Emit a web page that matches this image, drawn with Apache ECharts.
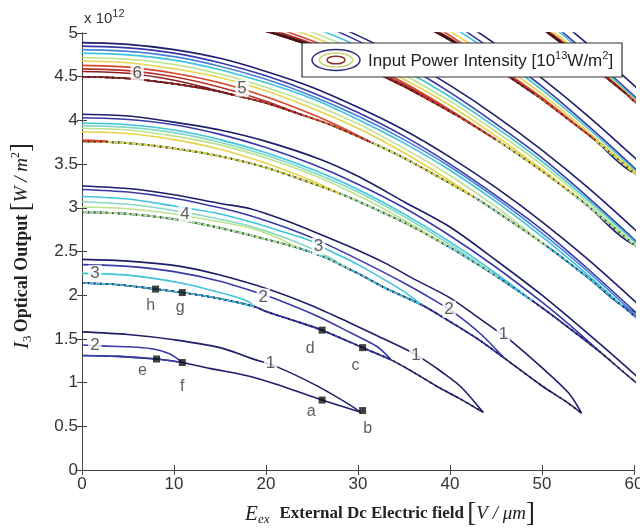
<!DOCTYPE html>
<html>
<head>
<meta charset="utf-8">
<script src="https://cdn.jsdelivr.net/npm/echarts@6/dist/echarts.min.js"></script>
<style>html,body{margin:0;padding:0;background:#fff}#chart{width:640px;height:529px}</style>
</head>
<body>
<div id="chart"></div>
<script>
// contour bands as [E, I3/1e12] points
var aBottom = [[0,1.31],[4,1.30],[8.1,1.27],[10.9,1.23],[14,1.16],[18.3,1.07],[22,0.95],[26.1,0.80],[30.3,0.66]];
var aLevel1 = [[0,1.58],[5,1.55],[10,1.49],[15,1.40],[18.3,1.28],[21.2,1.18],[25.6,0.96],[29.2,0.74],[30.3,0.66]];
var aLevel2 = [[0,1.43],[2.2,1.42],[5,1.41],[7.4,1.39],[9.5,1.33],[10.9,1.23]];

var bBottom = [[0,2.14],[4,2.12],[8,2.07],[10.9,2.03],[15,1.96],[18.7,1.87],[20.1,1.81],[23,1.71],[26.1,1.60],[30.5,1.40],[33.6,1.26],[36,1.12],[38.7,0.95],[41,0.82],[43.6,0.66]];
var bLevel1 = [[0,2.41],[5,2.39],[10.7,2.33],[15,2.23],[20.5,2.06],[25,1.88],[29.2,1.68],[33,1.49],[35.4,1.37],[37.2,1.26],[39,1.13],[41.2,0.95],[43.6,0.66]];
var bLevel2 = [[0,2.35],[5,2.33],[10,2.27],[15,2.16],[19,2.03],[21,1.96],[25.6,1.76],[29.2,1.57],[32.1,1.41],[33.6,1.26]];
var bLevel3 = [[0,2.25],[5,2.23],[10.7,2.14],[16.1,2.00],[18,1.93],[18.7,1.87]];

var cBottom = [[0,2.95],[5,2.93],[10,2.87],[15,2.77],[20,2.64],[23.5,2.54],[26.7,2.42],[29,2.30],[30,2.25],[33,2.08],[36.9,1.89],[39.8,1.71],[43,1.50],[45.9,1.28],[49.9,0.97],[52.5,0.79],[54.3,0.65]];
var cLevel1 = [[0,3.25],[5,3.22],[10,3.15],[15,3.05],[18.3,2.99],[22,2.86],[25.6,2.71],[29,2.56],[32.9,2.37],[36,2.19],[40,1.97],[43,1.75],[45,1.60],[46.5,1.49],[49.9,1.18],[52.9,0.88],[54.3,0.65]];
var cLevel2 = [[0,3.21],[5,3.18],[10,3.11],[15,3.00],[18.3,2.91],[22,2.78],[25.6,2.63],[30,2.41],[35,2.14],[38.5,1.93],[40.7,1.78],[43.4,1.55],[45.9,1.28]];
var cLevel3 = [[0,3.13],[5,3.10],[10,3.02],[15,2.93],[18.3,2.84],[22,2.72],[24.9,2.62],[26.7,2.52],[30,2.35],[33,2.17],[35,2.04],[36.9,1.89]];
var cLevel35 = [[0,3.07],[5,3.04],[10,2.97],[15,2.87],[18.3,2.79],[22,2.66],[26,2.48],[29,2.30]];
var cLevel4 = [[0,3.01],[5,2.99],[10,2.93],[15,2.84],[18.3,2.77],[21,2.67],[23.5,2.54]];

var dBottom = [[0,3.76],[5,3.74],[10,3.68],[15,3.59],[20,3.46],[25,3.28],[28.1,3.16],[32,2.98],[36,2.78],[39.6,2.57],[42,2.42],[45.3,2.20],[48.9,1.94],[52,1.70],[56.2,1.36],[60,1.02],[63,0.76]];
var dLevel1 = [[0,4.07],[5,4.05],[10,3.98],[15,3.89],[20,3.76],[26,3.55],[30,3.36],[35,3.07],[40,2.78],[45,2.40],[50,2.00],[55,1.56],[60,1.10],[63,0.80]];
var dLevel2 = [[0,4.03],[5,4.01],[10,3.95],[15,3.84],[20,3.69],[25,3.50],[30,3.27],[35,3.00],[40,2.68],[45,2.32],[50,1.92],[53,1.66],[56.2,1.36]];
var dLevel3 = [[0,3.97],[5,3.95],[10,3.89],[15,3.78],[20,3.63],[25,3.44],[30,3.21],[35,2.93],[40,2.61],[45,2.25],[48.9,1.94]];
var dLevel35 = [[0,3.94],[5,3.92],[10,3.86],[15,3.75],[20,3.60],[25,3.41],[30,3.18],[35,2.90],[40,2.58],[45.3,2.20]];
var dLevel4 = [[0,3.91],[5,3.89],[10,3.82],[15,3.72],[20,3.57],[25,3.38],[30,3.14],[35,2.86],[39.6,2.57]];
var dLevel45 = [[0,3.87],[5,3.85],[10,3.78],[15,3.67],[20,3.51],[25,3.31],[28.1,3.16]];
var dLevel5 = [[0,3.775],[1.5,3.77],[2.8,3.76]];

var eBottom = [[0,4.50],[5,4.48],[10,4.42],[14,4.35],[16.5,4.29],[20,4.20],[24,4.06],[27,3.95],[31.4,3.75],[35,3.57],[40,3.28],[42.5,3.13],[45,2.96],[50.4,2.57],[55,2.20],[58.7,1.88],[62,1.58]];
var eLevel1 = [[0,4.89],[5,4.87],[10,4.81],[15,4.71],[20,4.56],[25,4.38],[30,4.15],[35,3.89],[40,3.58],[45,3.23],[50,2.84],[55,2.41],[60,1.94],[62,1.74]];
var eLevel2 = [[0,4.85],[5,4.83],[10,4.77],[15,4.66],[20,4.51],[25,4.32],[30,4.09],[35,3.82],[40,3.50],[45,3.14],[50,2.75],[55,2.30],[60,1.82],[62,1.61]];
var eLevel25 = [[0,4.81],[5,4.79],[10,4.73],[15,4.62],[20,4.47],[25,4.28],[30,4.05],[35,3.78],[40,3.47],[45,3.11],[50,2.71],[55,2.27],[60,1.79],[62.1,1.57]];
var eLevel3 = [[0,4.77],[5,4.75],[10,4.69],[15,4.58],[20,4.43],[25,4.25],[30,4.01],[35,3.74],[40,3.43],[45,3.07],[50,2.67],[55,2.23],[58.7,1.88]];
var eLevel4 = [[0,4.72],[5,4.70],[10,4.64],[15,4.53],[20,4.38],[25,4.19],[30,3.96],[35,3.68],[40,3.37],[45,3.01],[50.4,2.57]];
var eLevel45 = [[0,4.68],[5,4.66],[10,4.59],[15,4.49],[20,4.34],[25,4.14],[30,3.91],[35,3.63],[40,3.31],[42.5,3.13]];
var eLevel5 = [[0,4.63],[5,4.61],[10,4.54],[15,4.43],[20,4.27],[25,4.07],[28,3.93],[31.4,3.75]];
var eLevel55 = [[0,4.59],[5,4.57],[10,4.50],[15,4.38],[20,4.22],[24,4.06]];
var eLevel6 = [[0,4.56],[5,4.54],[10,4.46],[14,4.36],[16.5,4.29]];

var fBottom = [[15,5.15],[20,5.02],[25,4.85],[27.4,4.75],[30,4.64],[35,4.39],[36.6,4.30],[40,4.10],[40.7,4.06],[45,3.78],[50,3.42],[53.7,3.13],[55,3.02],[60,2.58],[62,2.40]];
var fLevel1 = [[20,5.38],[25,5.20],[30,4.97],[35,4.71],[40,4.40],[45,4.05],[50,3.66],[55,3.23],[60,2.76],[62,2.56]];
var fLevel2 = [[20,5.33],[25,5.14],[30,4.91],[35,4.64],[40,4.32],[45,3.96],[50,3.57],[55,3.12],[60,2.64],[62,2.43]];
var fLevel3 = [[20,5.26],[25,5.07],[30,4.85],[35,4.58],[40,4.27],[45,3.92],[50,3.53],[55,3.09],[60,2.62],[62,2.42]];
var fLevel4 = [[20,5.19],[25,5.01],[30,4.79],[35,4.52],[40,4.22],[45,3.87],[50,3.49],[55,3.06],[60.2,2.57]];
var fLevel45 = [[20,5.14],[25,4.96],[30,4.73],[35,4.47],[40,4.17],[45,3.82],[50,3.44],[53.7,3.13]];
var fLevel5 = [[20,5.10],[25,4.91],[30,4.69],[35,4.43],[40,4.12],[45,3.78]];
var fLevel55 = [[20,5.06],[25,4.88],[30,4.66],[35,4.41],[40.7,4.06]];
var fLevel6 = [[20,5.04],[25,4.87],[30,4.65],[36.6,4.30]];
var fLevel7 = [[20,5.03],[25,4.86],[27.4,4.75]];

var gBottom = [[35,5.21],[40,4.92],[42.8,4.75],[45,4.60],[49.2,4.30],[50,4.24],[55,3.84],[55.7,3.78],[60,3.40],[62,3.22]];
var gLevel1 = [[38,5.35],[40,5.22],[45,4.87],[50,4.48],[55,4.05],[60,3.58],[62,3.38]];
var gLevel2 = [[38,5.27],[40,5.14],[45,4.78],[50,4.39],[55,3.94],[60,3.46],[62,3.25]];
var gLevel3 = [[38,5.22],[40,5.09],[45,4.74],[50,4.35],[55,3.91],[60,3.44],[62,3.24]];
var gLevel45 = [[38,5.15],[40,5.02],[45,4.68],[50,4.30],[55,3.87],[60,3.42],[62,3.23]];
var gLevel5 = [[38,5.10],[40,4.97],[45,4.63],[50,4.26],[55.7,3.78]];
var gLevel6 = [[38,5.06],[40,4.94],[45,4.61],[49.2,4.30]];
var gLevel7 = [[38,5.05],[40,4.93],[42.8,4.75]];

var hBottom = [[48,5.21],[50,5.06],[53.8,4.76],[55,4.66],[59.2,4.30],[60,4.22],[62,4.04]];
var hLevel1 = [[49,5.38],[52,5.13],[55,4.87],[58,4.59],[60,4.40],[62,4.20]];
var hLevel2 = [[49,5.29],[52,5.03],[55,4.76],[60,4.28],[62,4.07]];
var hLevel3 = [[49,5.25],[52,5.00],[55,4.73],[60,4.26],[62,4.06]];
var hLevel45 = [[49,5.19],[52,4.95],[55,4.70],[60,4.24],[62,4.05]];
var hLevel5 = [[49,5.16],[52,4.92],[55,4.68],[60,4.23],[62,4.045]];
var hLevel6 = [[49,5.14],[52,4.90],[55,4.67],[59.2,4.30]];
var hLevel7 = [[49,5.13],[52,4.89],[53.8,4.76]];

// contour labels
var clabelText = ['2','1','3','2','1','4','3','2','1','6','5'];
var clabelX = [1.4,20.5,1.4,19.7,36.3,11.2,25.7,39.9,45.8,6.0,17.4];
var clabelY = [1.43,1.22,2.25,1.98,1.31,2.93,2.56,1.84,1.55,4.54,4.37];

// marked operating points
var markNames = ['a','b','c','d','e','f','g','h'];
var markX = [26.1,30.5,30.5,26.1,8.1,10.9,10.9,8.0];
var markY = [0.80,0.68,1.40,1.60,1.27,1.23,2.03,2.07];

var markOffset = {a:[-11,12],b:[5,18],c:[-7,18],d:[-12,18],e:[-14,12],f:[0,24],g:[-2,15],h:[-5,17]};

var col = {
	navy:'#1e1e6a', blue:'#3a3aa6', lblue:'#4b84d6', cyan:'#3fc4da', teal:'#86d8c4',
	lgreen:'#bde28c', yellow:'#e8d44a', red:'#d8432a', red2:'#b8302a', dred:'#8a2222', xred:'#4e1616'
};

var lobes = [
	{bottom:aBottom, dots:false, lines:[[aLevel1,'navy'],[aLevel2,'blue']]},
	{bottom:bBottom, dots:true, lines:[[bLevel1,'navy'],[bLevel2,'blue'],[bLevel3,'cyan']]},
	{bottom:cBottom, dots:true, lines:[[cLevel1,'navy'],[cLevel2,'blue'],[cLevel3,'cyan'],[cLevel35,'teal'],[cLevel4,'lgreen']]},
	{bottom:dBottom, dots:true, lines:[[dLevel1,'navy'],[dLevel2,'blue'],[dLevel3,'cyan'],[dLevel35,'teal'],[dLevel4,'lgreen'],[dLevel45,'yellow'],[dLevel5,'red']]},
	{bottom:eBottom, dots:true, lines:[[eLevel1,'navy'],[eLevel2,'blue'],[eLevel25,'lblue'],[eLevel3,'cyan'],[eLevel4,'lgreen'],[eLevel45,'yellow'],[eLevel5,'red'],[eLevel55,'red2'],[eLevel6,'dred']]},
	{bottom:fBottom, dots:true, lines:[[fLevel1,'navy'],[fLevel2,'blue'],[fLevel3,'cyan'],[fLevel4,'lgreen'],[fLevel45,'yellow'],[fLevel5,'red'],[fLevel55,'red2'],[fLevel6,'dred'],[fLevel7,'xred']]},
	{bottom:gBottom, dots:true, lines:[[gLevel1,'navy'],[gLevel2,'blue'],[gLevel3,'cyan'],[gLevel45,'yellow'],[gLevel5,'red'],[gLevel6,'dred'],[gLevel7,'xred']]},
	{bottom:hBottom, dots:true, lines:[[hLevel1,'navy'],[hLevel2,'blue'],[hLevel3,'cyan'],[hLevel45,'yellow'],[hLevel5,'red'],[hLevel6,'dred'],[hLevel7,'xred']]}
];

function lineSeries(data, color, extra) {
	var s = {
		type: 'line', data: data, symbol: 'none', smooth: 0.3, silent: true,
		lineStyle: {width: 1.6, color: color}, z: 2, animation: false
	};
	if (extra) {
		for (var k in extra) s[k] = extra[k];
	}
	return s;
}

var series = [];
lobes.forEach(function (lobe) {
	lobe.lines.forEach(function (ln) {
		var upper = ln[0];
		var end = upper[upper.length - 1];
		// the rest of the closed contour runs back along the lobe's lower edge
		var back = lobe.bottom.filter(function (p) { return p[0] < end[0]; }).concat([end]);
		series.push(lineSeries(upper, col[ln[1]]));
		series.push(lineSeries(back, col[ln[1]]));
	});
	if (lobe.dots) {
		series.push(lineSeries(lobe.bottom, '#1a1a30', {
			lineStyle: {width: 2, color: 'rgba(20,20,40,0.75)', type: [1.5, 4.5]}, z: 3
		}));
	}
});

series.push({
	type: 'scatter', silent: true, z: 5, animation: false,
	symbolSize: 1, itemStyle: {color: 'rgba(0,0,0,0)'},
	data: clabelX.map(function (x, i) { return [x, clabelY[i], clabelText[i]]; }),
	label: {
		show: true, position: 'inside', color: '#333', fontSize: 17,
		fontFamily: 'Liberation Sans', backgroundColor: '#fff', padding: [0, 2],
		formatter: function (p) { return p.value[2]; }
	}
});

series.push({
	type: 'scatter', silent: true, z: 6, animation: false,
	symbol: 'rect', symbolSize: 7, itemStyle: {color: '#111'},
	data: markX.map(function (x, i) {
		return {value: [x, markY[i]], name: markNames[i], label: {offset: markOffset[markNames[i]]}};
	}),
	label: {
		show: true, position: 'inside', color: '#333', fontSize: 16,
		fontFamily: 'Liberation Sans',
		formatter: function (p) { return p.name; }
	}
});

var axisColor = '#444';
var tickFont = {color: '#333', fontSize: 17, fontFamily: 'Liberation Sans'};

function axis(extra) {
	var a = {
		type: 'value', axisLine: {show: true, lineStyle: {color: axisColor}},
		axisTick: {show: true, inside: true, length: 5, lineStyle: {color: axisColor}},
		splitLine: {show: false}
	};
	for (var k in extra) a[k] = extra[k];
	return a;
}

var serif = 'Liberation Serif';

var myChart = echarts.init(document.getElementById('chart'));
var option = {
	animation: false,
	backgroundColor: '#fff',
	grid: {left: 82, right: 6, top: 33, bottom: 59, outerBoundsMode: 'none', containLabel: false},
	xAxis: [
		axis({min: 0, max: 60, interval: 10, position: 'bottom',
			axisLabel: Object.assign({margin: 6}, tickFont)}),
		axis({min: 0, max: 60, interval: 10, position: 'top', axisLabel: {show: false}})
	],
	yAxis: [
		axis({min: 0, max: 5, interval: 0.5, position: 'left',
			axisLabel: Object.assign({margin: 4}, tickFont)}),
		axis({min: 0, max: 5, interval: 0.5, position: 'right', axisLabel: {show: false}})
	],
	series: series,
	graphic: [
		{
			type: 'text', x: 84, y: 19, z: 100,
			style: {
				text: 'x 10{s|12}', fill: '#333', fontSize: 15, fontFamily: 'Liberation Sans',
				verticalAlign: 'middle',
				rich: {s: {fontSize: 11, fontFamily: 'Liberation Sans', fill: '#333', padding: [0, 0, 11, 0]}}
			}
		},
		{
			type: 'text', x: 390, y: 514, z: 100,
			style: {
				text: '{e|E}{sub|ex}   {b|External Dc Electric field} {br|[}{it|V / μm}{br|]}',
				align: 'center', verticalAlign: 'middle', fill: '#222',
				rich: {
					e: {fontSize: 21, fontStyle: 'italic', fontFamily: serif, fill: '#222'},
					sub: {fontSize: 13, fontStyle: 'italic', fontFamily: serif, fill: '#222', padding: [11, 0, 0, 0]},
					b: {fontSize: 17, fontWeight: 'bold', fontFamily: serif, fill: '#222'},
					br: {fontSize: 27, fontFamily: serif, fill: '#222'},
					it: {fontSize: 19, fontStyle: 'italic', fontFamily: serif, fill: '#222'}
				}
			}
		},
		{
			type: 'text', x: 22, y: 246, rotation: Math.PI / 2, z: 100,
			style: {
				text: '{i|I}{sub|3} {b|Optical Output} {br|[}{it|W / m}{sup|2}{br|]}',
				align: 'center', verticalAlign: 'middle', fill: '#222',
				rich: {
					i: {fontSize: 21, fontStyle: 'italic', fontFamily: serif, fill: '#222'},
					sub: {fontSize: 13, fontFamily: serif, fill: '#222', padding: [11, 0, 0, 0]},
					b: {fontSize: 18, fontWeight: 'bold', fontFamily: serif, fill: '#222'},
					br: {fontSize: 27, fontFamily: serif, fill: '#222'},
					it: {fontSize: 19, fontStyle: 'italic', fontFamily: serif, fill: '#222'},
					sup: {fontSize: 12, fontFamily: serif, fill: '#222', padding: [0, 0, 12, 0]}
				}
			}
		},
		{
			type: 'rect', z: 100,
			shape: {x: 302, y: 43, width: 320, height: 34},
			style: {fill: '#fff', stroke: '#333', lineWidth: 1.2}
		},
		{
			type: 'ellipse', z: 101, shape: {cx: 336, cy: 60, rx: 24, ry: 10.5},
			style: {fill: 'none', stroke: '#2a2a80', lineWidth: 1.5}
		},
		{
			type: 'ellipse', z: 101, shape: {cx: 336, cy: 60, rx: 16.5, ry: 7},
			style: {fill: 'none', stroke: '#c6d876', lineWidth: 1.5}
		},
		{
			type: 'ellipse', z: 101, shape: {cx: 336, cy: 60, rx: 9, ry: 3.8},
			style: {fill: 'none', stroke: '#8a3030', lineWidth: 1.5}
		},
		{
			type: 'text', x: 368, y: 61, z: 101,
			style: {
				text: 'Input Power Intensity [10{s|13}W/m{s|2}]',
				fill: '#222', fontSize: 17, fontFamily: 'Liberation Sans', verticalAlign: 'middle',
				rich: {s: {fontSize: 11, fontFamily: 'Liberation Sans', fill: '#222', padding: [0, 0, 10, 0]}}
			}
		}
	]
};
myChart.setOption(option);
</script>
</body>
</html>
